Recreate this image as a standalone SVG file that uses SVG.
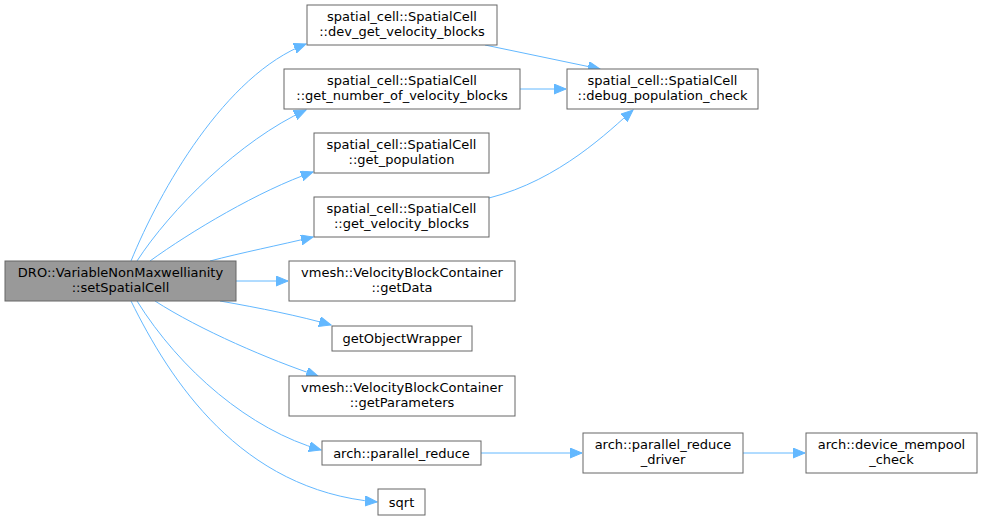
<svg xmlns="http://www.w3.org/2000/svg" width="983" height="521" viewBox="0 0 983 521">
<style>
.n rect{fill:#fff;stroke:#666;stroke-width:1}
.n.main rect{fill:#999}
.n text{font-family:"DejaVu Sans","Liberation Sans",sans-serif;font-size:13px;fill:#000;text-anchor:middle}
.e path{fill:none;stroke:#63b8ff;stroke-width:1}
</style>
<defs>
<marker id="ah" markerUnits="userSpaceOnUse" markerWidth="14" markerHeight="12" refX="12" refY="5" orient="auto">
<path d="M0,0 L12,5 L0,10 Z" fill="#63b8ff" stroke="#63b8ff"/>
</marker>
</defs>
<rect width="983" height="521" fill="#fff"/>
<g id="edges" class="e">
<path d="M131,261 C160,190 225,75 306,44" marker-end="url(#ah)"/>
<path d="M137,261 C170,210 240,140 306,110" marker-end="url(#ah)"/>
<path d="M150,261 C190,232 260,190 313,172" marker-end="url(#ah)"/>
<path d="M210,261 C240,253 280,245 313,237" marker-end="url(#ah)"/>
<path d="M236,281 L288,281" marker-end="url(#ah)"/>
<path d="M220,301 C260,308 300,316 331,325" marker-end="url(#ah)"/>
<path d="M155,301 C200,330 270,360 318,376" marker-end="url(#ah)"/>
<path d="M137,301 C180,370 250,430 321,450" marker-end="url(#ah)"/>
<path d="M131,301 C170,380 240,490 377,502" marker-end="url(#ah)"/>
<path d="M485,45 L600,69" marker-end="url(#ah)"/>
<path d="M520,89 L566,89" marker-end="url(#ah)"/>
<path d="M489,198 C560,180 610,130 633,110" marker-end="url(#ah)"/>
<path d="M481,453 L582,453" marker-end="url(#ah)"/>
<path d="M743,453 L805,453" marker-end="url(#ah)"/>
</g>
<g id="n_main" class="n main"><rect x="5" y="261" width="231" height="40"/><text x="120.5" y="276.5">DRO::VariableNonMaxwellianity</text><text x="120.5" y="291.5">::setSpatialCell</text></g>
<g id="n_devget" class="n"><rect x="307" y="5" width="190" height="40"/><text x="402" y="20.5">spatial_cell::SpatialCell</text><text x="402" y="35.5">::dev_get_velocity_blocks</text></g>
<g id="n_getnum" class="n"><rect x="284" y="69" width="236" height="40"/><text x="402" y="84.5">spatial_cell::SpatialCell</text><text x="402" y="99.5">::get_number_of_velocity_blocks</text></g>
<g id="n_getpop" class="n"><rect x="314" y="133" width="175" height="40"/><text x="401.5" y="148.5">spatial_cell::SpatialCell</text><text x="401.5" y="163.5">::get_population</text></g>
<g id="n_getvel" class="n"><rect x="314" y="197" width="175" height="40"/><text x="401.5" y="212.5">spatial_cell::SpatialCell</text><text x="401.5" y="227.5">::get_velocity_blocks</text></g>
<g id="n_getdata" class="n"><rect x="289" y="261" width="226" height="40"/><text x="402" y="276.5">vmesh::VelocityBlockContainer</text><text x="402" y="291.5">::getData</text></g>
<g id="n_gow" class="n"><rect x="332" y="326" width="140" height="25"/><text x="402" y="342.5">getObjectWrapper</text></g>
<g id="n_getparams" class="n"><rect x="289" y="376" width="226" height="40"/><text x="402" y="391.5">vmesh::VelocityBlockContainer</text><text x="402" y="406.5">::getParameters</text></g>
<g id="n_pr" class="n"><rect x="322" y="441" width="159" height="24"/><text x="401.5" y="457.5">arch::parallel_reduce</text></g>
<g id="n_sqrt" class="n"><rect x="378" y="489" width="47" height="26"/><text x="401.5" y="506.5">sqrt</text></g>
<g id="n_debug" class="n"><rect x="567" y="69" width="191" height="40"/><text x="662.5" y="84.5">spatial_cell::SpatialCell</text><text x="662.5" y="99.5">::debug_population_check</text></g>
<g id="n_prd" class="n"><rect x="583" y="433" width="160" height="40"/><text x="663" y="448.5">arch::parallel_reduce</text><text x="663" y="463.5">_driver</text></g>
<g id="n_dmc" class="n"><rect x="806" y="433" width="171" height="40"/><text x="891.5" y="448.5">arch::device_mempool</text><text x="891.5" y="463.5">_check</text></g>
</svg>
